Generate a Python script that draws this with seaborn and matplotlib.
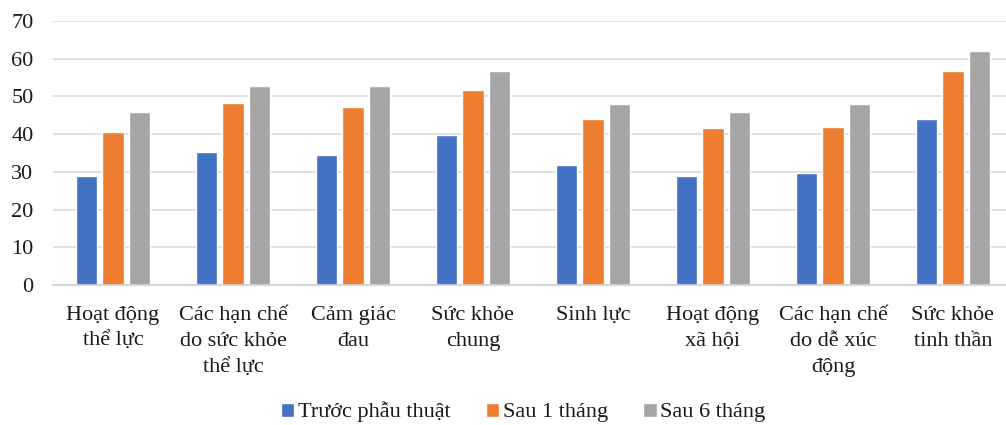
import matplotlib
matplotlib.use("Agg")
import matplotlib.pyplot as plt
import seaborn as sns
import pandas as pd

categories = [
    "Hoạt động\nthể lực",
    "Các hạn chế\ndo sức khỏe\nthể lực",
    "Cảm giác\nđau",
    "Sức khỏe\nchung",
    "Sinh lực",
    "Hoạt động\nxã hội",
    "Các hạn chế\ndo dễ xúc\nđộng",
    "Sức khỏe\ntinh thần",
]
series_names = ["Trước phẫu thuật", "Sau 1 tháng", "Sau 6 tháng"]
truoc = [28.9, 35.2, 34.4, 39.8, 31.9, 28.9, 29.8, 43.9]
sau1 = [40.7, 48.3, 47.2, 51.6, 43.9, 41.6, 42.0, 56.7]
sau6 = [46.0, 52.7, 52.7, 56.8, 48.1, 45.8, 47.9, 62.0]
yticks = [0, 10, 20, 30, 40, 50, 60, 70]
colors = ["#4472C4", "#ED7D31", "#A5A5A5"]

rows = []
for name, vals in zip(series_names, [truoc, sau1, sau6]):
    for c, v in zip(categories, vals):
        rows.append({"cat": c, "series": name, "value": v})
df = pd.DataFrame(rows)

sns.set_theme(style="white")
plt.rcParams["font.family"] = ["Liberation Serif", "DejaVu Serif"]

fig = plt.figure(figsize=(10.06, 4.25), dpi=100)
ax = fig.add_axes([53 / 1006, 1 - 285 / 425, (1013 - 53) / 1006, (285 - 21) / 425])

sns.barplot(data=df, x="cat", y="value", hue="series", order=categories,
            hue_order=series_names, palette=colors, width=0.667, gap=0.21,
            saturation=1, ax=ax, legend=True)

ax.set_ylim(0, 70)
ax.set_xlim(-0.5, 7.5)
ax.set_yticks(yticks)
ax.set_yticklabels([str(t) for t in yticks])
ax.yaxis.grid(True, color="#d9d9d9", linewidth=1.2)
ax.set_axisbelow(True)
for s in ["top", "right", "left"]:
    ax.spines[s].set_visible(False)
ax.spines["bottom"].set_color("#d0d0d0")
ax.spines["bottom"].set_linewidth(1.2)
ax.set_xlabel("")
ax.set_ylabel("")
ax.tick_params(axis="y", length=0, pad=14, labelsize=16, labelcolor="#1a1a1a")
ax.tick_params(axis="x", length=0, pad=15, labelsize=16, labelcolor="#1a1a1a")
for lbl in ax.get_xticklabels():
    lbl.set_linespacing(1.52)
    lbl.set_ha("center")

handles, labels = ax.get_legend_handles_labels()
ax.get_legend().remove()
fig.legend(handles, labels, loc="center", bbox_to_anchor=(0.52, 1 - 412 / 425),
           ncol=3, frameon=False, fontsize=16, handlelength=0.6,
           handleheight=0.6, handletextpad=0.15, columnspacing=1.6,
           labelcolor="#1a1a1a")

fig.savefig("out.png", dpi=100)
